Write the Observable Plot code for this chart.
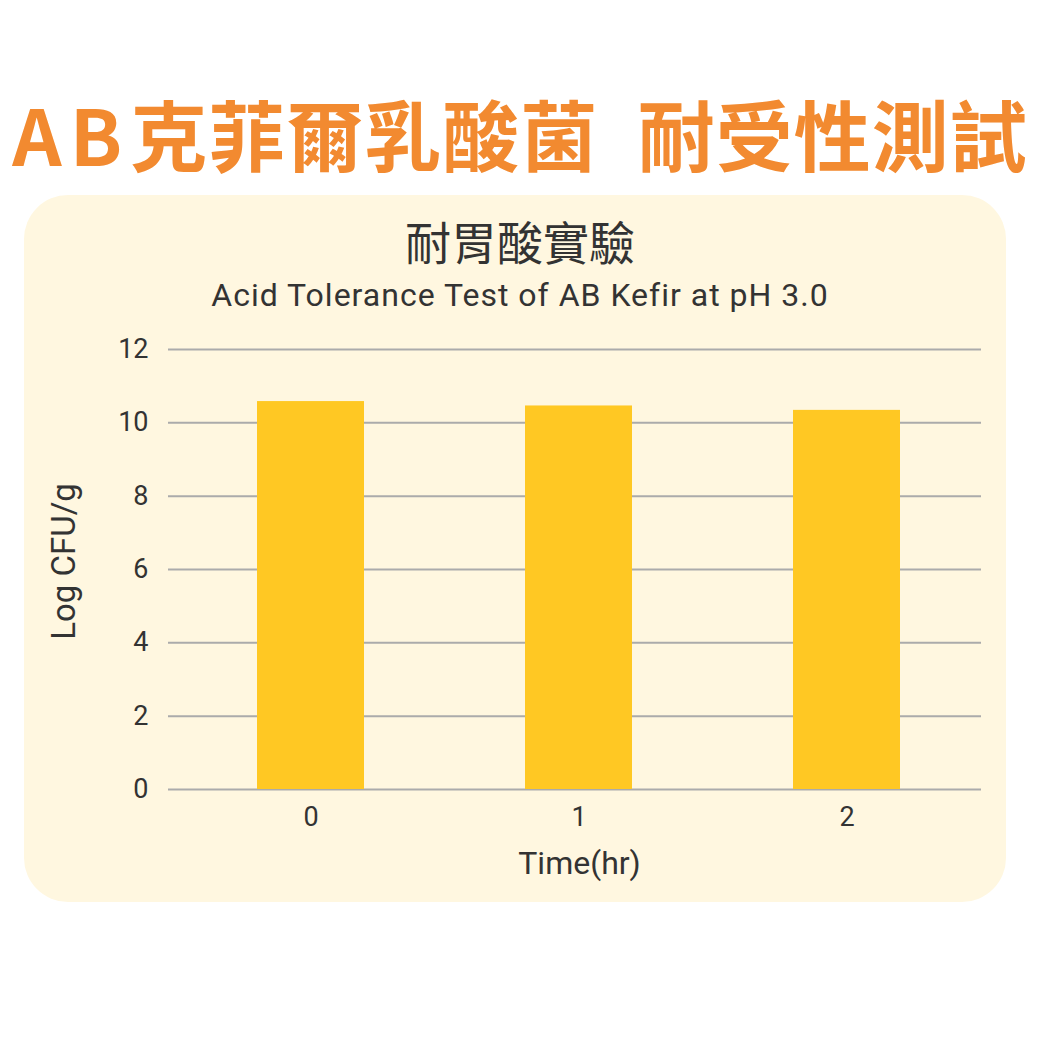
<!DOCTYPE html>
<html>
<head>
<meta charset="utf-8">
<script src="https://cdn.jsdelivr.net/npm/d3@7"></script>
<script src="https://cdn.jsdelivr.net/npm/@observablehq/plot@0.6"></script>
<style>
  html, body { margin: 0; padding: 0; background: #ffffff; }
  #page { position: relative; width: 1040px; height: 1040px; overflow: hidden; background: #ffffff; }
  #title { position: absolute; left: 0; top: 83px; width: 1040px; text-align: center;
    font-family: "Noto Sans CJK TC", sans-serif; font-weight: 700; font-size: 77px; line-height: 100px;
    color: #F28A30; letter-spacing: 1px; white-space: nowrap; }
  #title .latin { letter-spacing: 8px; }
  #panel { position: absolute; left: 24px; top: 195px; width: 982px; height: 707px;
    background: #FFF7E0; border-radius: 44px; }
  #subtitle { position: absolute; left: 0; top: 211px; width: 1040px; text-align: center;
    font-family: "Noto Sans CJK TC", sans-serif; font-weight: 400; font-size: 46px; line-height: 58px; color: #333333; }
  #subtitle2 { position: absolute; left: 0; top: 275px; width: 1040px; text-align: center;
    font-family: Roboto, "Noto Sans", sans-serif; font-size: 32px; line-height: 40px; letter-spacing: 1px; color: #333333; }
  #chart { position: absolute; left: 0; top: 300px; }
</style>
</head>
<body>
<div id="page">
  <div id="title"><span class="latin">AB</span>克菲爾乳酸菌&ensp;耐受性測試</div>
  <div id="panel"></div>
  <div id="subtitle">耐胃酸實驗</div>
  <div id="subtitle2">Acid Tolerance Test of AB Kefir at pH 3.0</div>
  <div id="chart"></div>
</div>
<script>
const times = ["0", "1", "2"];
const logCFU = [10.58, 10.46, 10.34];
const yTicks = [0, 2, 4, 6, 8, 10, 12];

const data = times.map((t, i) => ({time: t, value: logCFU[i]}));

const plot = Plot.plot({
  width: 1040,
  height: 600,
  marginTop: 49,
  marginBottom: 111,
  marginLeft: 177,
  marginRight: 59,
  style: {background: "transparent", fontFamily: "Roboto, 'Noto Sans', sans-serif", color: "#333333"},
  x: {domain: times, paddingInner: 0.6, paddingOuter: 0.3},
  y: {domain: [0, 12]},
  marks: [
    Plot.ruleY(yTicks, {stroke: "#ababab", strokeWidth: 2, insetLeft: -9}),
    Plot.barY(data, {x: "time", y: "value", fill: "#FFC823"}),
    Plot.axisX({tickSize: 0, tickPadding: 17, fontSize: 27, label: "Time(hr)", labelAnchor: "center", labelArrow: "none", labelOffset: 84}),
    Plot.axisY({ticks: yTicks, tickSize: 0, tickPadding: 29, fontSize: 27, label: "Log CFU/g", labelAnchor: "center", labelArrow: "none", labelOffset: 126})
  ]
});
plot.querySelectorAll("g[aria-label='x-axis label'] text").forEach(t => t.setAttribute("font-size", "32"));
plot.querySelectorAll("g[aria-label='y-axis label'] text").forEach(t => { t.setAttribute("font-size", "33"); t.setAttribute("dx", "8"); });
document.getElementById("chart").appendChild(plot);
</script>
</body>
</html>
